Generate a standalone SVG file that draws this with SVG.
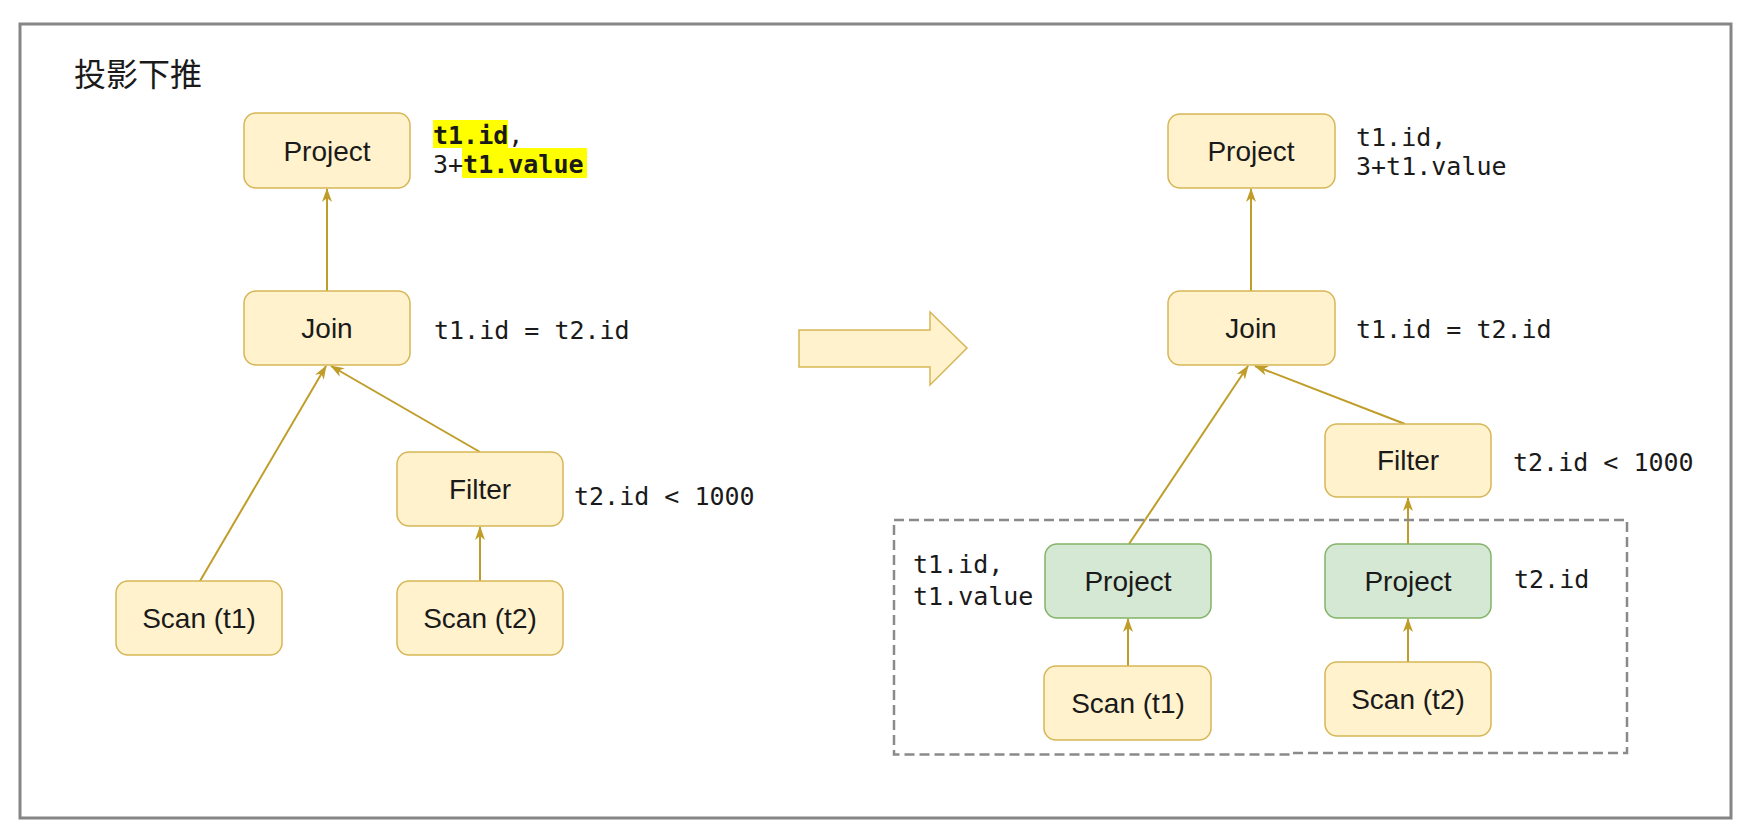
<svg xmlns="http://www.w3.org/2000/svg" width="1762" height="832" viewBox="0 0 1762 832">
<style>
.node rect{fill:#fff2cc;stroke:#d6b656;stroke-width:1.5}
.green rect{fill:#d5e8d4;stroke:#82b366;stroke-width:1.5}
.lbl{font-family:"Liberation Sans",Arial,sans-serif;font-size:28px;fill:#1a1a1a;text-anchor:middle}
.mono{font-family:"DejaVu Sans Mono","Liberation Mono",monospace;font-size:25px;fill:#1a1a1a}
.b{font-weight:bold}
.edge{stroke:#bf9d28;stroke-width:2;fill:none;marker-end:url(#ah)}
</style>
<defs>
<marker id="ah" viewBox="0 0 14 10" refX="13" refY="5" markerWidth="14" markerHeight="10" markerUnits="userSpaceOnUse" orient="auto">
<path d="M0,0 L14,5 L0,10 L4,5 Z" fill="#bf9d28"/>
</marker>
</defs>
<rect x="0" y="0" width="1762" height="832" fill="#ffffff"/>
<rect x="20" y="24" width="1711" height="794" fill="none" stroke="#858585" stroke-width="3"/>
<text x="74" y="86" style="font-family:'Noto Sans CJK SC','Noto Sans',sans-serif;font-size:32px;fill:#1a1a1a">投影下推</text>

<g id="connectors">
<path class="edge" d="M327,291 V189"/>
<path class="edge" d="M200,581 L326,366"/>
<path class="edge" d="M480,452 L331,366"/>
<path class="edge" d="M480,581 V527"/>
<path class="edge" d="M1251,291 V189"/>
<path class="edge" d="M1129,544 L1248,366"/>
<path class="edge" d="M1405,424 L1255,366"/>
<path class="edge" d="M1408,544 V498"/>
<path class="edge" d="M1128,666 V619"/>
<path class="edge" d="M1408,662 V619"/>
</g>

<g id="big-arrow">
<polygon points="799,330 930,330 930,312 967,348 930,385 930,367 799,367" fill="#fff2cc" stroke="#d6b656" stroke-width="1.5"/>
</g>

<g id="group-pushdown">
<path d="M894,520 H1627 V753 H1293 V754.5 H894 Z" fill="none" stroke="#8a8a8a" stroke-width="2.5" stroke-dasharray="10 5"/>
</g>

<g id="left-project" class="node"><rect x="244" y="113" width="166" height="75" rx="12"/><text class="lbl" x="327" y="161">Project</text></g>
<g id="left-join" class="node"><rect x="244" y="291" width="166" height="74" rx="12"/><text class="lbl" x="327" y="338">Join</text></g>
<g id="left-filter" class="node"><rect x="397" y="452" width="166" height="74" rx="12"/><text class="lbl" x="480" y="499">Filter</text></g>
<g id="left-scan-t1" class="node"><rect x="116" y="581" width="166" height="74" rx="12"/><text class="lbl" x="199" y="628">Scan (t1)</text></g>
<g id="left-scan-t2" class="node"><rect x="397" y="581" width="166" height="74" rx="12"/><text class="lbl" x="480" y="628">Scan (t2)</text></g>

<g id="left-labels">
<rect x="433" y="120" width="75" height="28" fill="#ffff00"/>
<rect x="462" y="148" width="125" height="30" fill="#ffff00"/>
<text class="mono" x="433" y="144"><tspan class="b">t1.id</tspan>,</text>
<text class="mono" x="433" y="173">3+<tspan class="b">t1.value</tspan></text>
<text class="mono" x="434" y="339">t1.id = t2.id</text>
<text class="mono" x="574" y="505">t2.id &lt; 1000</text>
</g>

<g id="right-project" class="node"><rect x="1168" y="114" width="167" height="74" rx="12"/><text class="lbl" x="1251" y="161">Project</text></g>
<g id="right-join" class="node"><rect x="1168" y="291" width="167" height="74" rx="12"/><text class="lbl" x="1251" y="338">Join</text></g>
<g id="right-filter" class="node"><rect x="1325" y="424" width="166" height="73" rx="12"/><text class="lbl" x="1408" y="470">Filter</text></g>
<g id="right-project-t1" class="green"><rect x="1045" y="544" width="166" height="74" rx="12"/><text class="lbl" x="1128" y="591">Project</text></g>
<g id="right-project-t2" class="green"><rect x="1325" y="544" width="166" height="74" rx="12"/><text class="lbl" x="1408" y="591">Project</text></g>
<g id="right-scan-t1" class="node"><rect x="1044" y="666" width="167" height="74" rx="12"/><text class="lbl" x="1128" y="713">Scan (t1)</text></g>
<g id="right-scan-t2" class="node"><rect x="1325" y="662" width="166" height="74" rx="12"/><text class="lbl" x="1408" y="709">Scan (t2)</text></g>

<g id="right-labels">
<text class="mono" x="1356" y="146">t1.id,</text>
<text class="mono" x="1356" y="175">3+t1.value</text>
<text class="mono" x="1356" y="338">t1.id = t2.id</text>
<text class="mono" x="1513" y="471">t2.id &lt; 1000</text>
<text class="mono" x="913" y="573">t1.id,</text>
<text class="mono" x="913" y="605">t1.value</text>
<text class="mono" x="1514" y="588">t2.id</text>
</g>
</svg>
